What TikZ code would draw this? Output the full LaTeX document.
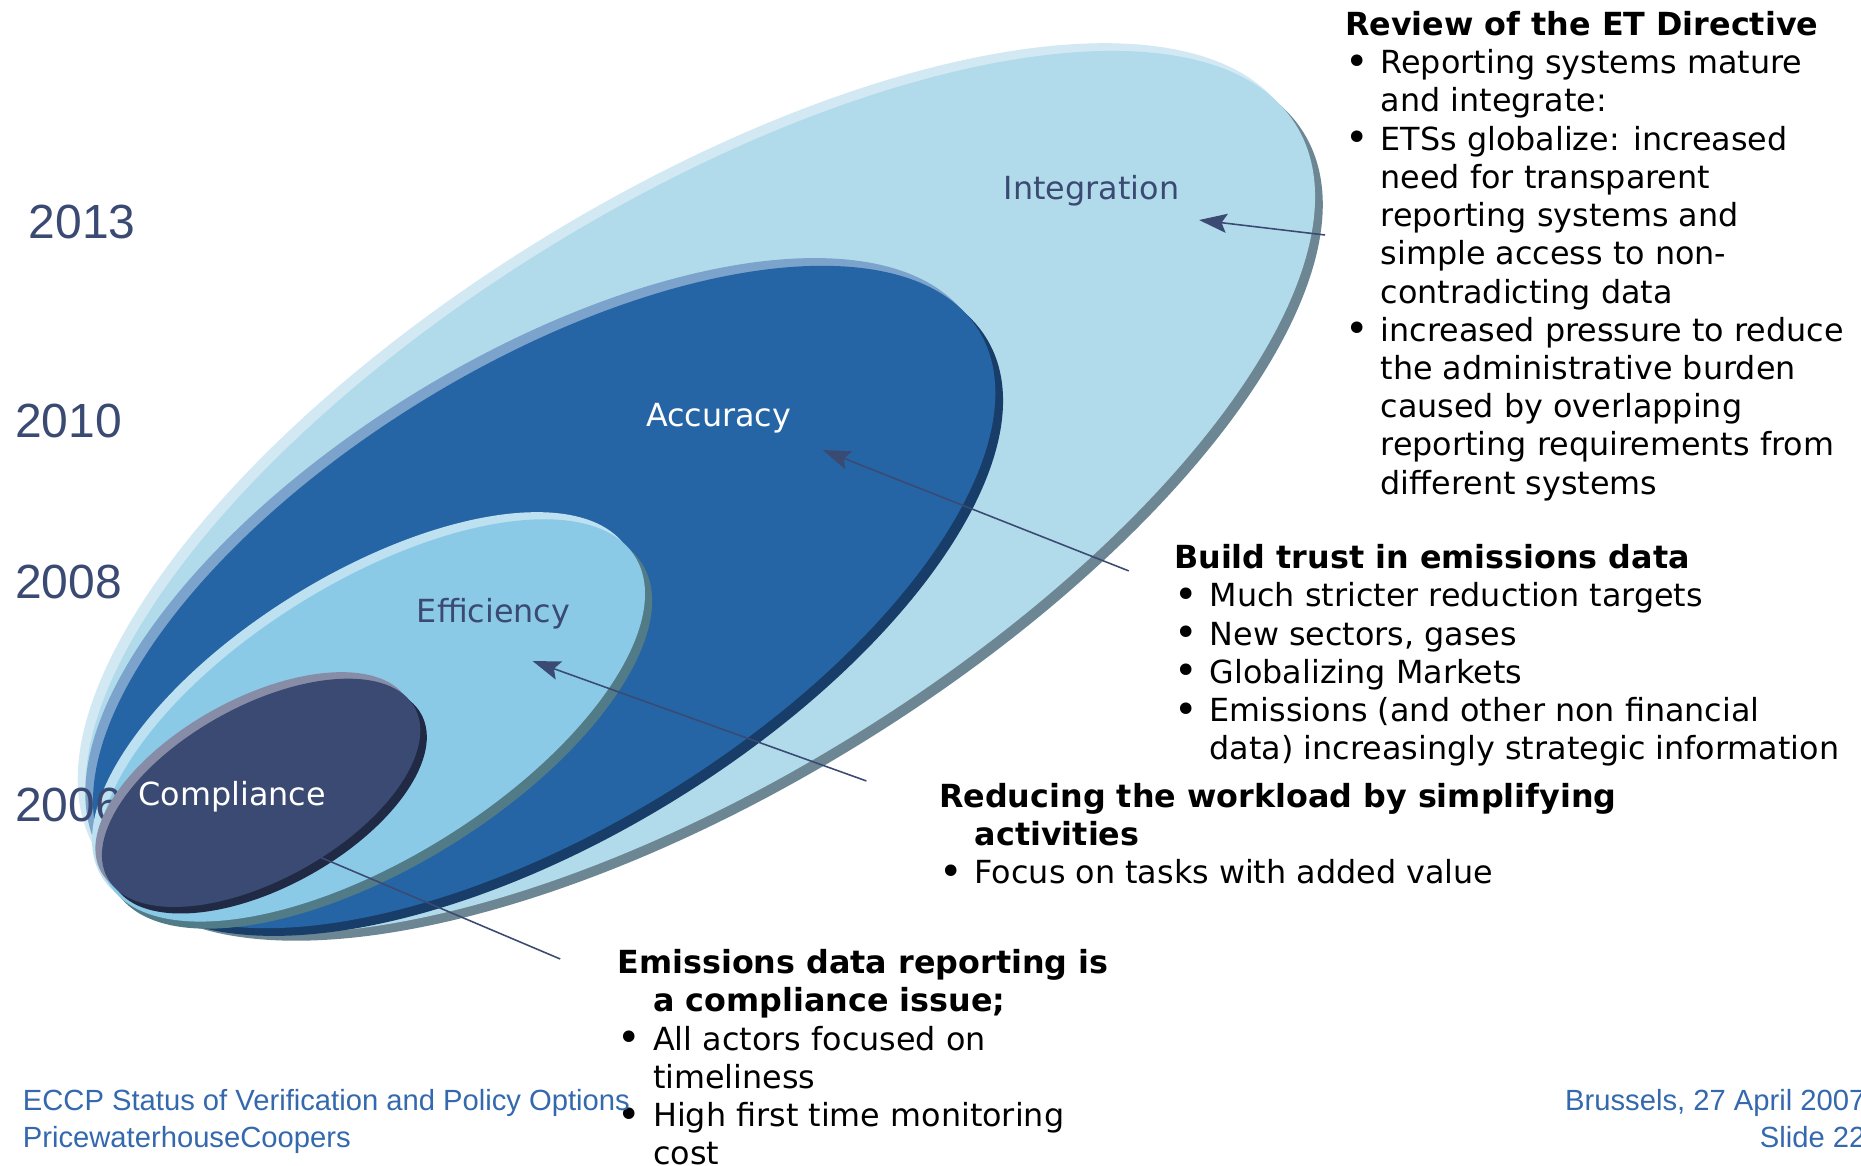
\documentclass[tikz,border=0pt]{standalone}
\usepackage{fontspec}
\setmainfont{DejaVu Sans}
\newfontfamily\arialfont{Liberation Sans}
\usetikzlibrary{arrows.meta}
\definecolor{slate}{HTML}{3A4A72}
\definecolor{pwcblue}{HTML}{3469AE}
\definecolor{intmid}{HTML}{B1DAEB}
\definecolor{inthi}{HTML}{D2E9F4}
\definecolor{intlo}{HTML}{6C8793}
\definecolor{accmid}{HTML}{2665A5}
\definecolor{acchi}{HTML}{7BA3CB}
\definecolor{acclo}{HTML}{173D68}
\definecolor{effmid}{HTML}{8BCAE6}
\definecolor{effhi}{HTML}{BDE1F0}
\definecolor{efflo}{HTML}{527B88}
\definecolor{commid}{HTML}{3A4A72}
\definecolor{comhi}{HTML}{878DA7}
\definecolor{comlo}{HTML}{212A45}
\newcommand{\bul}{\makebox[20.5pt][l]{\raisebox{-0.9pt}{\scalebox{1.25}{\textbullet}}}}
\newcommand{\ind}{\hspace*{20.5pt}}
\tikzset{
  year/.style={font=\arialfont\fontsize{27.6}{30}\selectfont, text=slate, anchor=base west, inner sep=0pt},
  ringname/.style={font=\fontsize{18.3}{22}\selectfont, anchor=base west, inner sep=0pt},
  block/.style={font=\fontsize{18.3}{22}\selectfont, align=left, anchor=north west, inner sep=0pt},
  foot/.style={font=\arialfont\fontsize{16.8}{21.4}\selectfont, text=pwcblue, anchor=north west, align=left, inner sep=0pt},
  pointer/.style={draw=slate, line width=0.9pt, -{Stealth[length=16pt,width=11pt,inset=3pt]}}
}
\begin{document}
\begin{tikzpicture}[x=0.024cm, y=-0.024cm]
      \path[use as bounding box, fill=white] (0,0) rectangle (1568,982);
      \fill[intlo, rotate around={31.6:(596.5,421)}] (596.5,421) ellipse [x radius=589.5, y radius=242.5];
      \fill[inthi, rotate around={31.6:(583.5,408)}] (583.5,408) ellipse [x radius=589.5, y radius=242.5];
      \fill[intmid, rotate around={31.6:(590,414.5)}] (590,414.5) ellipse [x radius=589.5, y radius=242.5];
      \fill[acclo, rotate around={31.5:(465,509.5)}] (465,509.5) ellipse [x radius=429.5, y radius=194.5];
      \fill[acchi, rotate around={31.5:(452,496.5)}] (452,496.5) ellipse [x radius=429.5, y radius=194.5];
      \fill[accmid, rotate around={31.5:(458.5,503)}] (458.5,503) ellipse [x radius=429.5, y radius=194.5];
      \fill[efflo, rotate around={31.9:(319.5,613)}] (319.5,613) ellipse [x radius=261, y radius=116];
      \fill[effhi, rotate around={31.9:(307.5,601)}] (307.5,601) ellipse [x radius=261, y radius=116];
      \fill[effmid, rotate around={31.9:(313.5,607)}] (313.5,607) ellipse [x radius=261, y radius=116];
      \draw
        (23.9,200.9) node[year] (y2013){2013}
        (12.6,369) node[year] (y2010){2010}
        (12.6,504.4) node[year] (y2008){2008}
        (12.6,692.5) node[year] (y2006){2006};
      \fill[comlo, rotate around={29.1:(225.5,673.5)}] (225.5,673.5) ellipse [x radius=148, y radius=73];
      \fill[comhi, rotate around={29.1:(214.5,662.5)}] (214.5,662.5) ellipse [x radius=148, y radius=73];
      \fill[commid, rotate around={29.1:(220,668)}] (220,668) ellipse [x radius=148, y radius=73];
      \draw
        (845.6,168.5) node[ringname, text=slate] (integration){Integration}
        (544,359.5) node[ringname, text=white] (accuracy){Accuracy}
        (351,524.6) node[ringname, text=slate] (efficiency){Efficiency}
        (116.5,678.3) node[ringname, text=white] (compliance){Compliance};
      \node[block] (review) at (1133,7) {\strut\textbf{Review of the ET Directive}\\
        \bul Reporting systems mature\\
        \ind and integrate:\\
        \bul ETSs globalize: increased\\
        \ind need for transparent\\
        \ind reporting systems and\\
        \ind simple access to non-\\
        \ind contradicting data\\
        \bul increased pressure to reduce\\
        \ind the administrative burden\\
        \ind caused by overlapping\\
        \ind reporting requirements from\\
        \ind different systems};
      \node[block] (trust) at (989,456.3) {\strut\textbf{Build trust in emissions data}\\
        \bul Much stricter reduction targets\\
        \bul New sectors, gases\\
        \bul Globalizing Markets\\
        \bul Emissions (and other non financial\\
        \ind data) increasingly strategic information};
      \node[block] (workload) at (791,657.2) {\strut\textbf{Reducing the workload by simplifying}\\
        \ind\textbf{activities}\\
        \bul Focus on tasks with added value};
      \node[block] (issue) at (520,797.5) {\strut\textbf{Emissions data reporting is}\\
        \ind\textbf{a compliance issue;}\\
        \bul All actors focused on\\
        \ind timeliness\\
        \bul High first time monitoring\\
        \ind cost};
      \node[foot] (eccp) at (19,913.4) {\strut ECCP Status of Verification and Policy Options\\PricewaterhouseCoopers};
      \node[foot, anchor=north east, align=right] (slide) at (1572,913.4) {\strut Brussels, 27 April 2007\\Slide 22};
      \coordinate (intfrom) at (1116.4,198);
      \coordinate (intto) at (1010.3,185.4);
      \coordinate (accfrom) at (951,481);
      \coordinate (accto) at (693.3,379.2);
      \coordinate (efffrom) at (730,658);
      \coordinate (effto) at (448.8,557);
      \coordinate (comfrom) at (472,808);
      \coordinate (comto) at (264,719.8);
      \begin{scope}[pointer]
        \draw (intfrom) to (intto);
        \draw (accfrom) to (accto);
        \draw (efffrom) to (effto);
        \draw[-] (comfrom) to (comto);
      \end{scope}
    \end{tikzpicture}
\end{document}
